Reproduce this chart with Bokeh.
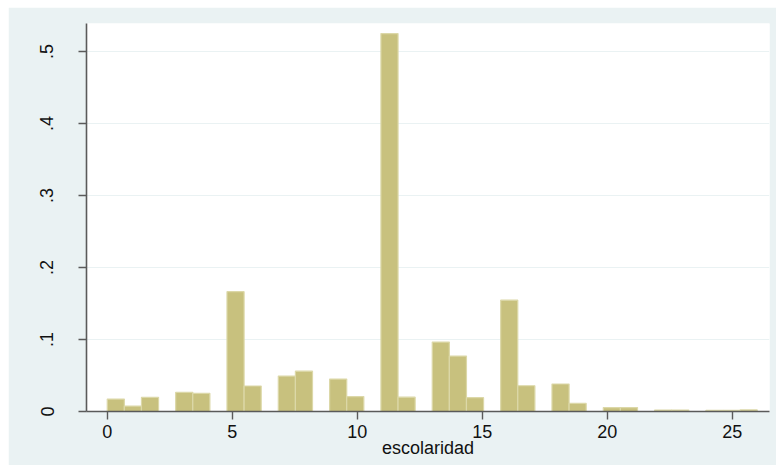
from bokeh.plotting import figure
from bokeh.models import Range1d, FixedTicker, CustomJSTickFormatter, ColumnDataSource
from bokeh.embed import file_html
from bokeh.resources import INLINE

# Histogram of escolaridad: 38 bins of equal width over 0..26
bin_start = 0.0
bin_end = 26.0
density = [
    0.0173, 0.0076, 0.0197, 0.0, 0.0266, 0.0252, 0.0, 0.1665, 0.0354, 0.0,
    0.0492, 0.0560, 0.0, 0.0450, 0.0207, 0.0, 0.5250, 0.0199, 0.0, 0.0964,
    0.0770, 0.0192, 0.0, 0.1547, 0.0358, 0.0, 0.0382, 0.0112, 0.0, 0.0055,
    0.0055, 0.0, 0.0020, 0.0020, 0.0, 0.0015, 0.0015, 0.0022,
]
x_ticks = [0, 5, 10, 15, 20, 25]
y_ticks = [0, 0.1, 0.2, 0.3, 0.4, 0.5]
x_title = "escolaridad"

nb = len(density)
w = (bin_end - bin_start) / nb
lefts, rights, tops = [], [], []
for i, d in enumerate(density):
    if d > 0:
        lefts.append(bin_start + i * w)
        rights.append(bin_start + (i + 1) * w)
        tops.append(d)
src = ColumnDataSource(dict(left=lefts, right=rights, top=tops, bottom=[0] * len(tops)))

BG = "#EAF2F3"
p = figure(width=768, height=458, output_backend="svg", toolbar_location=None,
           x_range=Range1d(-0.83, 26.49), y_range=Range1d(0, 0.539),
           min_border_left=78, min_border_right=7, min_border_top=16, min_border_bottom=54)
p.margin = (7, 0, 0, 8)
p.background_fill_color = "white"
p.border_fill_color = BG
p.outline_line_color = None

p.quad(left="left", right="right", top="top", bottom="bottom", source=src,
       fill_color="#C8C17E", line_color="#DCD8A8", line_width=1.2)

p.xgrid.visible = False
p.ygrid.grid_line_color = BG
p.ygrid.grid_line_width = 1.2
p.ygrid.ticker = FixedTicker(ticks=y_ticks)

p.xaxis.ticker = FixedTicker(ticks=x_ticks)
p.yaxis.ticker = FixedTicker(ticks=y_ticks)
p.yaxis.formatter = CustomJSTickFormatter(code="""
    if (Math.abs(tick) < 1e-9) return "0";
    return tick.toFixed(1).replace(/^0/, "");
""")

for ax in (p.xaxis[0], p.yaxis[0]):
    ax.axis_line_color = "#5A5A5A"
    ax.axis_line_width = 1.6
    ax.major_tick_line_color = "#5A5A5A"
    ax.major_tick_line_width = 1.4
    ax.major_tick_out = 8
    ax.major_tick_in = 0
    ax.minor_tick_out = 0
    ax.minor_tick_in = 0
    ax.major_label_text_font = "Liberation Sans"
    ax.major_label_text_font_size = "18px"
    ax.major_label_text_color = "#111111"

p.yaxis.major_label_orientation = "vertical"
p.yaxis.major_label_standoff = 25
p.xaxis.major_label_standoff = 5
p.xaxis.axis_label = x_title
p.xaxis.axis_label_text_font = "Liberation Sans"
p.xaxis.axis_label_text_font_size = "18px"
p.xaxis.axis_label_text_font_style = "normal"
p.xaxis.axis_label_text_color = "#111111"
p.xaxis.axis_label_standoff = -3

open("out.html", "w").write(file_html(p, INLINE))
